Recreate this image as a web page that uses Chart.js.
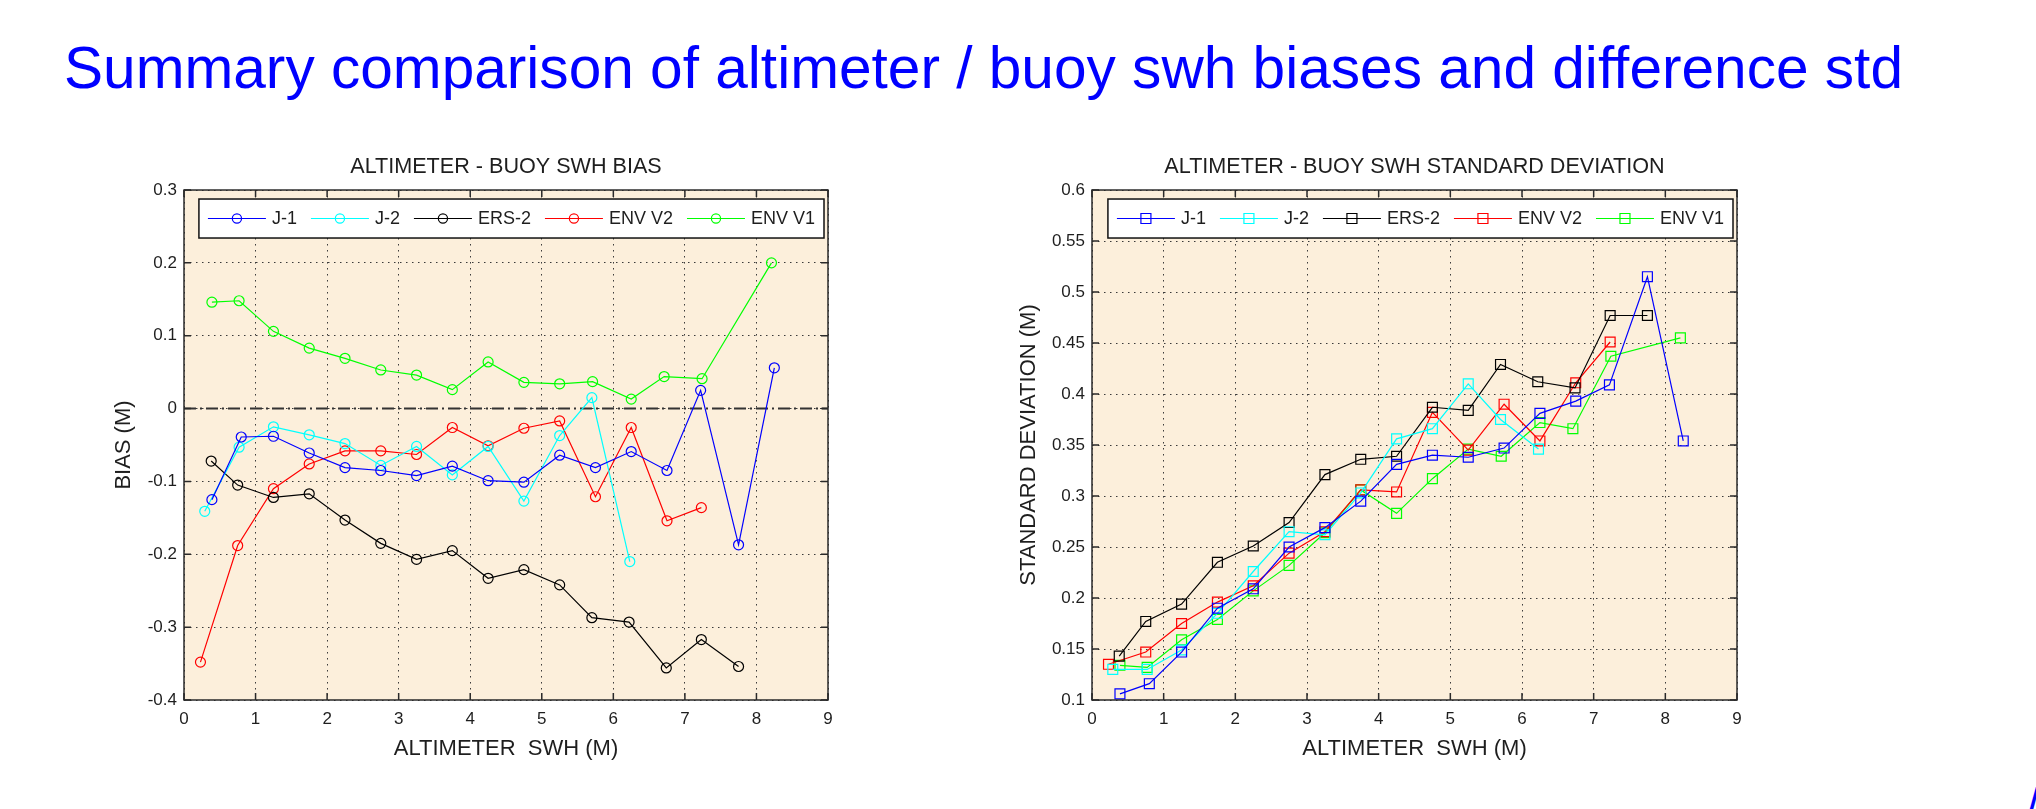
<!DOCTYPE html>
<html>
<head>
<meta charset="utf-8">
<title>Altimeter / buoy SWH comparison</title>
<script src="https://cdn.jsdelivr.net/npm/chart.js@4/dist/chart.umd.min.js"></script>
<style>
  html, body { margin: 0; padding: 0; background: #fff; }
  body { width: 2036px; height: 809px; position: relative; overflow: hidden; font-family: 'Liberation Sans', Arial, sans-serif; }
  #title { position: absolute; left: 64px; top: 38px; font-size: 58.6px; line-height: 59px; color: #0000ff; white-space: nowrap; }
  #corner { position: absolute; left: 2027px; top: 782px; font-size: 44px; line-height: 44px; color: #0000ff; }
  canvas { position: absolute; top: 140px; }
  #biasChart { left: 84px; }
  #stdChart { left: 992px; }
</style>
</head>
<body>
<div id="title">Summary comparison of altimeter / buoy swh biases and difference std</div>
<canvas id="biasChart" width="764" height="640"></canvas>
<canvas id="stdChart" width="765" height="640"></canvas>
<div id="corner">/</div>

<script>
// series names + colours (matlab defaults)
const SERIES = ['J-1', 'J-2', 'ERS-2', 'ENV V2', 'ENV V1'];
const COLORS = ['#0000ff', '#00ffff', '#000000', '#ff0000', '#00ff00'];

// mean altimeter SWH of each bin (M), per mission
const J1_X   = [0.39, 0.80, 1.25, 1.75, 2.25, 2.75, 3.25, 3.75, 4.25, 4.75, 5.25, 5.75, 6.25, 6.75, 7.22, 7.75, 8.25];
const J2_X   = [0.29, 0.77, 1.25, 1.75, 2.25, 2.75, 3.25, 3.75, 4.25, 4.75, 5.25, 5.70, 6.23];
const ERS2_X = [0.38, 0.75, 1.25, 1.75, 2.25, 2.75, 3.25, 3.75, 4.25, 4.75, 5.25, 5.70, 6.22, 6.74, 7.23, 7.75];
const ENV2_X = [0.23, 0.75, 1.25, 1.75, 2.25, 2.75, 3.25, 3.75, 4.25, 4.75, 5.25, 5.75, 6.25, 6.75, 7.23];
const ENV1_X = [0.39, 0.77, 1.25, 1.75, 2.25, 2.75, 3.25, 3.75, 4.25, 4.75, 5.25, 5.71, 6.25, 6.71, 7.24, 8.21];

// altimeter - buoy bias (M)
const BIAS_J1   = [-0.125, -0.039, -0.038, -0.061, -0.081, -0.085, -0.092, -0.079, -0.099, -0.101, -0.064, -0.081, -0.059, -0.085, 0.025, -0.187, 0.056];
const BIAS_J2   = [-0.141, -0.053, -0.025, -0.036, -0.048, -0.078, -0.052, -0.091, -0.052, -0.127, -0.037, 0.015, -0.210];
const BIAS_ERS2 = [-0.072, -0.105, -0.122, -0.117, -0.153, -0.185, -0.207, -0.195, -0.233, -0.221, -0.242, -0.287, -0.293, -0.356, -0.317, -0.354];
const BIAS_ENV2 = [-0.348, -0.188, -0.110, -0.076, -0.058, -0.058, -0.063, -0.026, -0.051, -0.027, -0.017, -0.121, -0.026, -0.154, -0.136];
const BIAS_ENV1 = [0.146, 0.148, 0.106, 0.083, 0.069, 0.053, 0.046, 0.026, 0.064, 0.036, 0.034, 0.037, 0.013, 0.044, 0.041, 0.200];

// std of the difference (M)
const STD_J1   = [0.106, 0.116, 0.147, 0.190, 0.209, 0.250, 0.269, 0.295, 0.331, 0.340, 0.338, 0.347, 0.381, 0.393, 0.409, 0.515, 0.354];
const STD_J2   = [0.130, 0.130, 0.149, 0.185, 0.226, 0.265, 0.262, 0.303, 0.356, 0.366, 0.410, 0.375, 0.346];
const STD_ERS2 = [0.143, 0.177, 0.194, 0.235, 0.251, 0.274, 0.321, 0.336, 0.339, 0.387, 0.384, 0.429, 0.412, 0.406, 0.477, 0.477];
const STD_ENV2 = [0.135, 0.147, 0.175, 0.196, 0.212, 0.244, 0.265, 0.306, 0.304, 0.382, 0.345, 0.390, 0.354, 0.411, 0.451];
const STD_ENV1 = [0.134, 0.132, 0.159, 0.179, 0.207, 0.232, 0.264, 0.306, 0.283, 0.317, 0.346, 0.339, 0.372, 0.366, 0.437, 0.455];

// axis ranges / tick steps
const X_RANGE = [0, 9];
const BIAS_RANGE = [-0.4, 0.3];
const STD_RANGE = [0.1, 0.6];

const FONT = "'Liberation Sans', Arial, sans-serif";
const TEXT = '#1e1e1e';
const PLOT_BG = '#fcefdb';

const X_ALL = [J1_X, J2_X, ERS2_X, ENV2_X, ENV1_X];

function buildSets(ys, style) {
  return ys.map((vals, i) => ({
    label: SERIES[i],
    data: vals.map((y, k) => ({ x: X_ALL[i][k], y: y })),
    borderColor: COLORS[i],
    borderWidth: 1.2,
    pointStyle: style,
    pointRadius: style === 'rect' ? 7 : 5,
    pointBorderWidth: 1.2,
    pointBorderColor: COLORS[i],
    pointBackgroundColor: 'rgba(0,0,0,0)',
    tension: 0,
    fill: false
  }));
}

function drawMarker(ctx, style, x, y, color) {
  ctx.save();
  ctx.strokeStyle = color;
  ctx.lineWidth = 1.2;
  ctx.beginPath();
  if (style === 'rect') ctx.rect(x - 5, y - 5, 10, 10);
  else ctx.arc(x, y, 4.6, 0, Math.PI * 2);
  ctx.stroke();
  ctx.restore();
}

// matlab look: beige axes, box with inward ticks, dash-dot zero line, boxed legend
const matlabAxes = {
  id: 'matlabAxes',
  beforeDraw(chart) {
    const { ctx, chartArea: a } = chart;
    ctx.save();
    ctx.fillStyle = PLOT_BG;
    ctx.fillRect(a.left, a.top, a.right - a.left, a.bottom - a.top);
    ctx.restore();
  },
  beforeDatasetsDraw(chart, args, opts) {
    if (!opts.zeroLine) return;
    const { ctx, chartArea: a } = chart;
    const y = chart.scales.y.getPixelForValue(0);
    ctx.save();
    ctx.strokeStyle = '#333';
    ctx.lineWidth = 2;
    ctx.setLineDash([12, 4, 2, 4]);
    ctx.beginPath();
    ctx.moveTo(a.left, y);
    ctx.lineTo(a.right, y);
    ctx.stroke();
    ctx.restore();
  },
  afterDatasetsDraw(chart) {
    const { ctx, chartArea: a, scales } = chart;
    const TL = 7;
    ctx.save();
    ctx.strokeStyle = '#2a2a2a';
    ctx.lineWidth = 1.5;
    scales.x.ticks.forEach(t => {
      const px = scales.x.getPixelForValue(t.value);
      ctx.beginPath();
      ctx.moveTo(px, a.bottom); ctx.lineTo(px, a.bottom - TL);
      ctx.moveTo(px, a.top); ctx.lineTo(px, a.top + TL);
      ctx.stroke();
    });
    scales.y.ticks.forEach(t => {
      const py = scales.y.getPixelForValue(t.value);
      ctx.beginPath();
      ctx.moveTo(a.left, py); ctx.lineTo(a.left + TL, py);
      ctx.moveTo(a.right, py); ctx.lineTo(a.right - TL, py);
      ctx.stroke();
    });
    ctx.strokeRect(a.left, a.top, a.right - a.left, a.bottom - a.top);

    // legend box
    ctx.font = '18px ' + FONT;
    const items = chart.data.datasets.map(d => ({
      label: d.label, color: d.borderColor, style: d.pointStyle, w: ctx.measureText(d.label).width
    }));
    const LINE = 58, TXT = 64, GAP = 14, PAD = 9, H = 39;
    const width = PAD * 2 + items.reduce((s, it) => s + TXT + it.w, 0) + GAP * (items.length - 1);
    const x0 = a.right - 4 - width;
    const y0 = a.top + 9;
    ctx.fillStyle = '#fff';
    ctx.fillRect(x0, y0, width, H);
    ctx.strokeStyle = '#111';
    ctx.lineWidth = 1.5;
    ctx.strokeRect(x0, y0, width, H);
    let x = x0 + PAD;
    const y = y0 + H / 2;
    items.forEach(it => {
      ctx.strokeStyle = it.color;
      ctx.lineWidth = 1.2;
      ctx.beginPath();
      ctx.moveTo(x, y); ctx.lineTo(x + LINE, y);
      ctx.stroke();
      drawMarker(ctx, it.style, x + LINE / 2, y, it.color);
      ctx.fillStyle = TEXT;
      ctx.textBaseline = 'middle';
      ctx.textAlign = 'left';
      ctx.fillText(it.label, x + TXT, y + 1);
      x += TXT + it.w + GAP;
    });
    ctx.restore();
  }
};

const fmt = v => String(Math.round(v * 100) / 100);

function makeChart(id, datasets, opt) {
  return new Chart(document.getElementById(id), {
    type: 'line',
    data: { datasets },
    plugins: [matlabAxes],
    options: {
      responsive: false,
      animation: false,
      devicePixelRatio: 1,
      layout: { padding: { top: 0, right: 20, bottom: 0, left: 0 } },
      plugins: {
        legend: { display: false },
        tooltip: { enabled: false },
        title: {
          display: true, text: opt.title, color: TEXT, fullSize: false,
          font: { family: FONT, size: 21.6, weight: 'normal', lineHeight: 1.2 },
          padding: { top: 14, bottom: 10.1 }
        },
        matlabAxes: { zeroLine: opt.zeroLine }
      },
      scales: {
        x: {
          type: 'linear', min: X_RANGE[0], max: X_RANGE[1],
          ticks: { stepSize: 1, color: TEXT, padding: 9, maxRotation: 0, font: { family: FONT, size: 17 }, callback: fmt },
          grid: { color: '#3a3a3a', lineWidth: 1, drawTicks: false },
          border: { display: false, dash: [1.5, 4.5] },
          title: { display: true, text: 'ALTIMETER  SWH (M)', color: TEXT, font: { family: FONT, size: 22 }, padding: { top: 0, bottom: 18 } },
          afterFit: s => { s.height = 80; }
        },
        y: {
          type: 'linear', min: opt.range[0], max: opt.range[1],
          ticks: { stepSize: opt.step, color: TEXT, padding: 7, font: { family: FONT, size: 17 }, callback: fmt },
          grid: { color: '#3a3a3a', lineWidth: 1, drawTicks: false },
          border: { display: false, dash: [1.5, 4.5] },
          title: { display: true, text: opt.yTitle, color: TEXT, font: { family: FONT, size: 22 }, padding: { top: opt.yTitlePad, bottom: 0 } },
          afterFit: s => { s.width = 100; }
        }
      }
    }
  });
}

makeChart('biasChart',
  buildSets([BIAS_J1, BIAS_J2, BIAS_ERS2, BIAS_ENV2, BIAS_ENV1], 'circle'),
  { title: 'ALTIMETER - BUOY SWH BIAS', yTitle: 'BIAS (M)', range: BIAS_RANGE, step: 0.1, yTitlePad: 27, zeroLine: true });

makeChart('stdChart',
  buildSets([STD_J1, STD_J2, STD_ERS2, STD_ENV2, STD_ENV1], 'rect'),
  { title: 'ALTIMETER - BUOY SWH STANDARD DEVIATION', yTitle: 'STANDARD DEVIATION (M)', range: STD_RANGE, step: 0.05, yTitlePad: 24, zeroLine: false });
</script>
</body>
</html>
